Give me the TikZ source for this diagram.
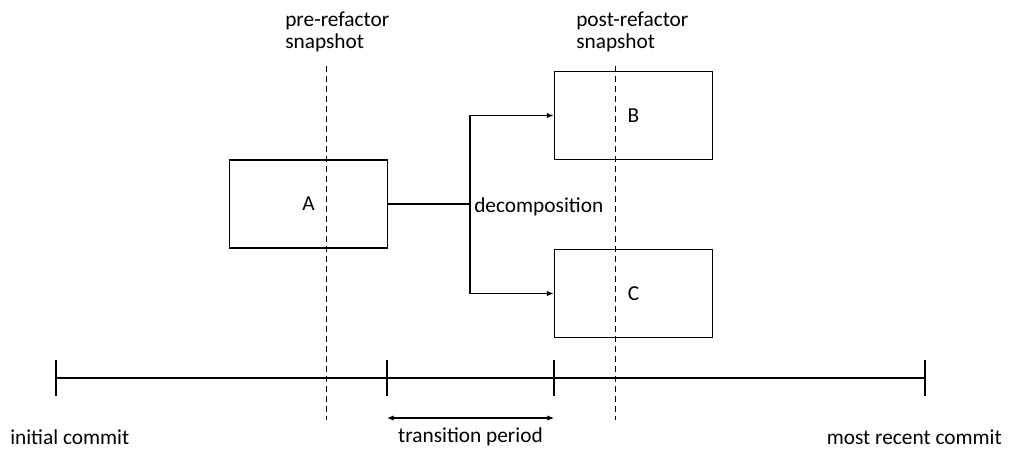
\documentclass[tikz,border=0pt]{standalone}
\usepackage{fontspec}
\setmainfont{Carlito}
\usetikzlibrary{arrows.meta,calc}

\tikzset{
  blk/.style={draw, line width=0.8pt, minimum width=119pt, minimum height=66pt},
  lbl/.style={inner sep=0pt, font=\fontsize{16}{16.5}\selectfont},
  snap/.style={dash pattern=on 4.5pt off 3pt, line width=0.75pt},
  tick/.style={line width=0.8pt},
  arr/.style={-{Latex[length=5pt,width=4pt]}, line width=0.8pt}
}

\begin{document}
\begin{tikzpicture}[x=0.75pt, y=-0.75pt]
  \useasboundingbox (0,0) rectangle (1012,449);
  \node[blk, lbl] (A) at (308.5,204) {A};
  \node[blk, lbl] (B) at (633.5,115.5) {B};
  \node[blk, lbl] (C) at (633.5,293.5) {C};
  \coordinate (jn) at (470,204);
  \node[lbl, anchor=west] (dec) at (474,207) {decomposition};
  \draw[line width=1.5pt] (A.east) -- (jn);
  \draw[arr] (jn) |- (B.west);
  \draw[arr] (jn) |- (C.west);

  \coordinate (t0) at (56,378);
  \coordinate (t1) at (387,378);
  \coordinate (t2) at (554,378);
  \coordinate (t3) at (925,378);
  \draw[tick] (t0) -- (t3);
  \foreach \t in {t0,t1,t2,t3}
    \draw[tick] ($(\t)+(0,-18)$) -- ($(\t)+(0,18)$);
  \draw[{Latex[length=5pt,width=4pt]}-{Latex[length=5pt,width=4pt]}, line width=0.8pt]
    ($(t1)+(0,40)$) -- ($(t2)+(0,40)$);

  \node[lbl, anchor=west] (init) at (10,437) {initial commit};
  \node[lbl] (trans) at (470.5,437) {transition period};
  \node[lbl, anchor=east] (recent) at (1002,437) {most recent commit};

  \coordinate (pretop) at (326,66);
  \coordinate (prebot) at (326,420);
  \coordinate (posttop) at (615,66);
  \coordinate (postbot) at (615,420);
  \draw[snap] (pretop) -- (prebot);
  \draw[snap] (posttop) -- (postbot);
  \node[lbl, align=left, anchor=west] (pre) at (285,32) {pre-refactor\\snapshot};
  \node[lbl, align=left, anchor=west] (post) at (576,32) {post-refactor\\snapshot};
\end{tikzpicture}
\end{document}
